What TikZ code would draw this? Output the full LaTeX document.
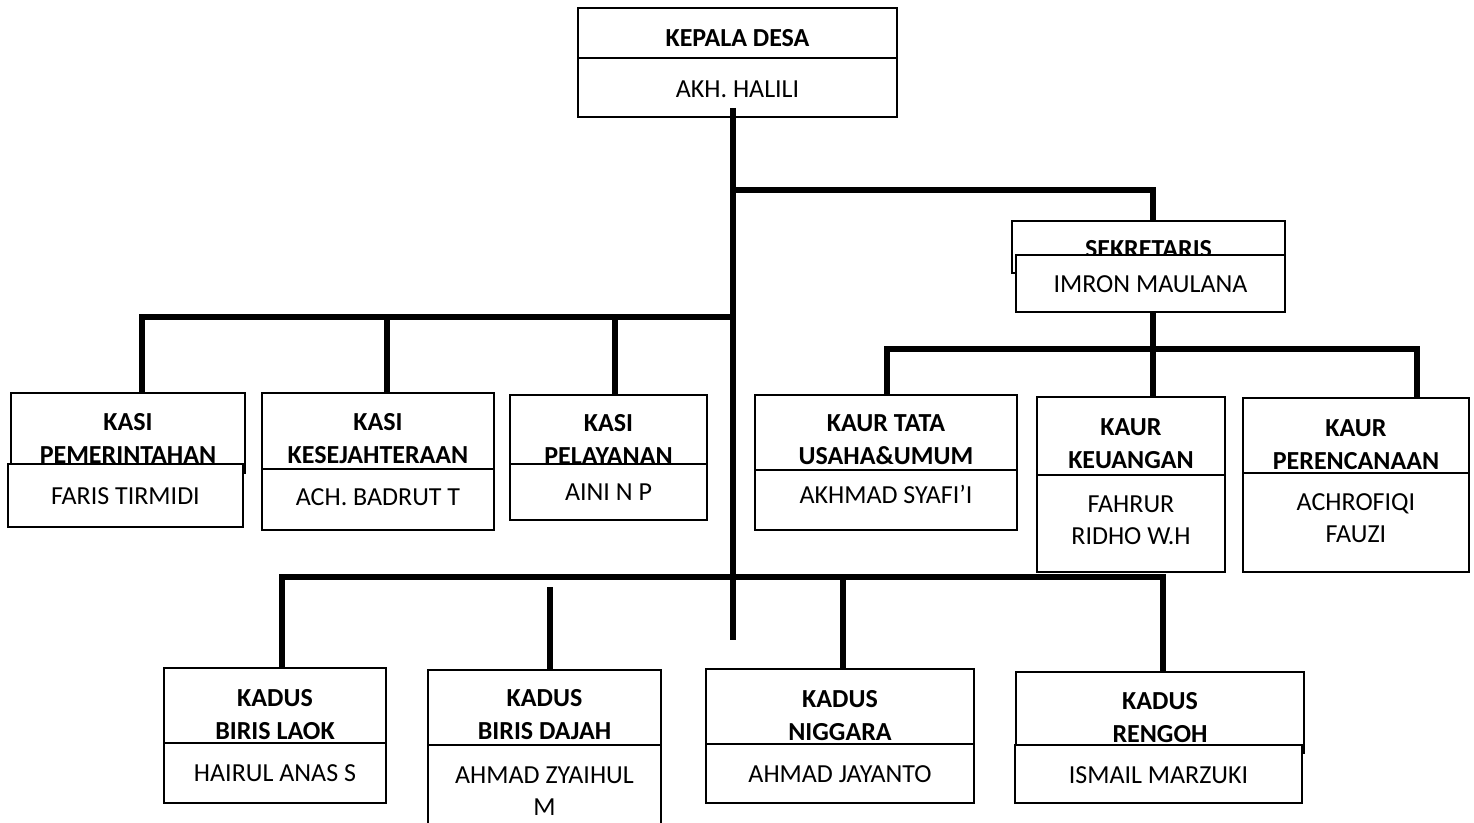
\documentclass[tikz,border=0pt]{standalone}
\usepackage{fontspec}
\setmainfont{Carlito}
\usetikzlibrary{calc}

\tikzset{
  box/.style={draw,line width=0.8pt,fill=white,inner sep=0pt,outer sep=0pt,anchor=north west},
  ttl/.style={anchor=north,inner sep=0pt,align=center,font=\bfseries\fontsize{13}{16.5}\selectfont},
  who/.style={anchor=north,inner sep=0pt,align=center,font=\fontsize{13}{16}\selectfont},
  conn/.style={line width=3pt},
}

\begin{document}
\begin{tikzpicture}[x=0.5pt,y=-0.5pt]
\useasboundingbox (0,0) rectangle (1474,823);
\clip (0,0) rectangle (1474,823);
% kepala desa
\node[box,minimum width=159.5pt,minimum height=25pt] (kades-t) at (578,8) {};
\node[ttl] (kades-l) at ([yshift=-10.5pt]kades-t.north) {KEPALA DESA};
\node[box,minimum width=159.5pt,minimum height=29.5pt] (kades-n) at (578,58) {};
\node[who] (kades-w) at ([yshift=-11pt]kades-n.north) {AKH. HALILI};
% sekretaris
\node[box,minimum width=136.5pt,minimum height=26pt] (sek-t) at (1012,221) {};
\node[ttl] (sek-l) at ([yshift=-9.5pt]sek-t.north) {SEKRETARIS};
\node[box,minimum width=134.5pt,minimum height=28.5pt] (sek-n) at (1016,255) {};
\node[who] (sek-w) at ([yshift=-10pt]sek-n.north) {IMRON MAULANA};
% kasi
\node[box,minimum width=117pt,minimum height=40pt] (kasiA-t) at (11,393) {};
\node[ttl] (kasiA-l) at ([yshift=-10pt]kasiA-t.north) {KASI\\PEMERINTAHAN};
\node[box,minimum width=117.5pt,minimum height=31.5pt] (kasiA-n) at (8,464) {};
\node[who] (kasiA-w) at ([yshift=-11.5pt]kasiA-n.north) {FARIS TIRMIDI};
\node[box,minimum width=116pt,minimum height=38pt] (kasiB-t) at (262,393) {};
\node[ttl] (kasiB-l) at ([yshift=-10pt]kasiB-t.north) {KASI\\KESEJAHTERAAN};
\node[box,minimum width=116pt,minimum height=30.5pt] (kasiB-n) at (262,469) {};
\node[who] (kasiB-w) at ([yshift=-9.5pt]kasiB-n.north) {ACH. BADRUT T};
\node[box,minimum width=98.5pt,minimum height=34.5pt] (kasiC-t) at (510,395) {};
\node[ttl] (kasiC-l) at ([yshift=-9.5pt]kasiC-t.north) {KASI\\PELAYANAN};
\node[box,minimum width=98.5pt,minimum height=28pt] (kasiC-n) at (510,464) {};
\node[who] (kasiC-w) at ([yshift=-9.5pt]kasiC-n.north) {AINI N P};
% kaur
\node[box,minimum width=131pt,minimum height=37.5pt] (kaurA-t) at (755,395) {};
\node[ttl] (kaurA-l) at ([yshift=-9.5pt]kaurA-t.north) {KAUR TATA\\USAHA\&UMUM};
\node[box,minimum width=131pt,minimum height=30pt] (kaurA-n) at (755,470) {};
\node[who] (kaurA-w) at ([yshift=-7.5pt]kaurA-n.north) {AKHMAD SYAFI’I};
\node[box,minimum width=94pt,minimum height=39pt] (kaurB-t) at (1037,397) {};
\node[ttl] (kaurB-l) at ([yshift=-10.5pt]kaurB-t.north) {KAUR\\KEUANGAN};
\node[box,minimum width=94pt,minimum height=48.5pt] (kaurB-n) at (1037,475) {};
\node[who] (kaurB-w) at ([yshift=-10pt]kaurB-n.north) {FAHRUR\\RIDHO W.H};
\node[box,minimum width=113pt,minimum height=37.5pt] (kaurC-t) at (1243,398) {};
\node[ttl] (kaurC-l) at ([yshift=-10.5pt]kaurC-t.north) {KAUR\\PERENCANAAN};
\node[box,minimum width=113pt,minimum height=49.5pt] (kaurC-n) at (1243,473) {};
\node[who] (kaurC-w) at ([yshift=-10pt]kaurC-n.north) {ACHROFIQI\\FAUZI};
% kadus
\node[box,minimum width=111pt,minimum height=37.5pt] (kadusA-t) at (164,668) {};
\node[ttl] (kadusA-l) at ([yshift=-10.5pt]kadusA-t.north) {KADUS\\BIRIS LAOK};
\node[box,minimum width=111pt,minimum height=30pt] (kadusA-n) at (164,743) {};
\node[who] (kadusA-w) at ([yshift=-10.5pt]kadusA-n.north) {HAIRUL ANAS S};
\node[box,minimum width=116.5pt,minimum height=37.5pt] (kadusB-t) at (428,670) {};
\node[ttl] (kadusB-l) at ([yshift=-9.5pt]kadusB-t.north) {KADUS\\BIRIS DAJAH};
\node[box,minimum width=116.5pt,minimum height=47.5pt] (kadusB-n) at (428,745) {};
\node[who] (kadusB-w) at ([yshift=-10.5pt]kadusB-n.north) {AHMAD ZYAIHUL\\M};
\node[box,minimum width=134pt,minimum height=37.5pt] (kadusC-t) at (706,669) {};
\node[ttl] (kadusC-l) at ([yshift=-10.5pt]kadusC-t.north) {KADUS\\NIGGARA};
\node[box,minimum width=134pt,minimum height=29.5pt] (kadusC-n) at (706,744) {};
\node[who] (kadusC-w) at ([yshift=-10.5pt]kadusC-n.north) {AHMAD JAYANTO};
\node[box,minimum width=144pt,minimum height=40.5pt] (kadusD-t) at (1016,672) {};
\node[ttl] (kadusD-l) at ([yshift=-10pt]kadusD-t.north) {KADUS\\RENGOH};
\node[box,minimum width=143.5pt,minimum height=29pt] (kadusD-n) at (1015,745) {};
\node[who] (kadusD-w) at ([yshift=-10.5pt]kadusD-n.north) {ISMAIL MARZUKI};
% connectors
\coordinate (sekbar) at (733,190);
\coordinate (kasibar) at (733,317);
\coordinate (kaurbar) at (1153,349);
\coordinate (kadusbar) at (733,577);
\coordinate (trunk) at (733,640);
\draw[conn] ([xshift=-2.25pt,yshift=4.5pt]kades-n.south) -- (trunk);
\draw[conn] (sekbar) -| ([xshift=2.25pt]sek-t.north);
\draw[conn] ([xshift=7pt]kasiA-t.north) |- (kasibar);
\draw[conn] ([xshift=4.5pt]kasiB-t.north) |- (kasibar);
\draw[conn] ([xshift=3.25pt]kasiC-t.north) |- (kasibar);
\draw[conn] ([xshift=1.25pt]sek-n.south) -- ([xshift=11pt]kaurB-t.north);
\draw[conn] ([xshift=0.5pt]kaurA-t.north) |- (kaurbar);
\draw[conn] ([xshift=30.5pt]kaurC-t.north) |- (kaurbar);
\draw[conn] ([xshift=3.5pt]kadusA-t.north) |- (kadusbar);
\draw[conn] ([xshift=1.5pt]kadusC-t.north) |- (kadusbar);
\draw[conn] ([xshift=1.5pt]kadusD-t.north) |- (kadusbar);
\draw[conn] ([xshift=2.75pt]kadusB-t.north) -- ++(0,-83);
\end{tikzpicture}
\end{document}
